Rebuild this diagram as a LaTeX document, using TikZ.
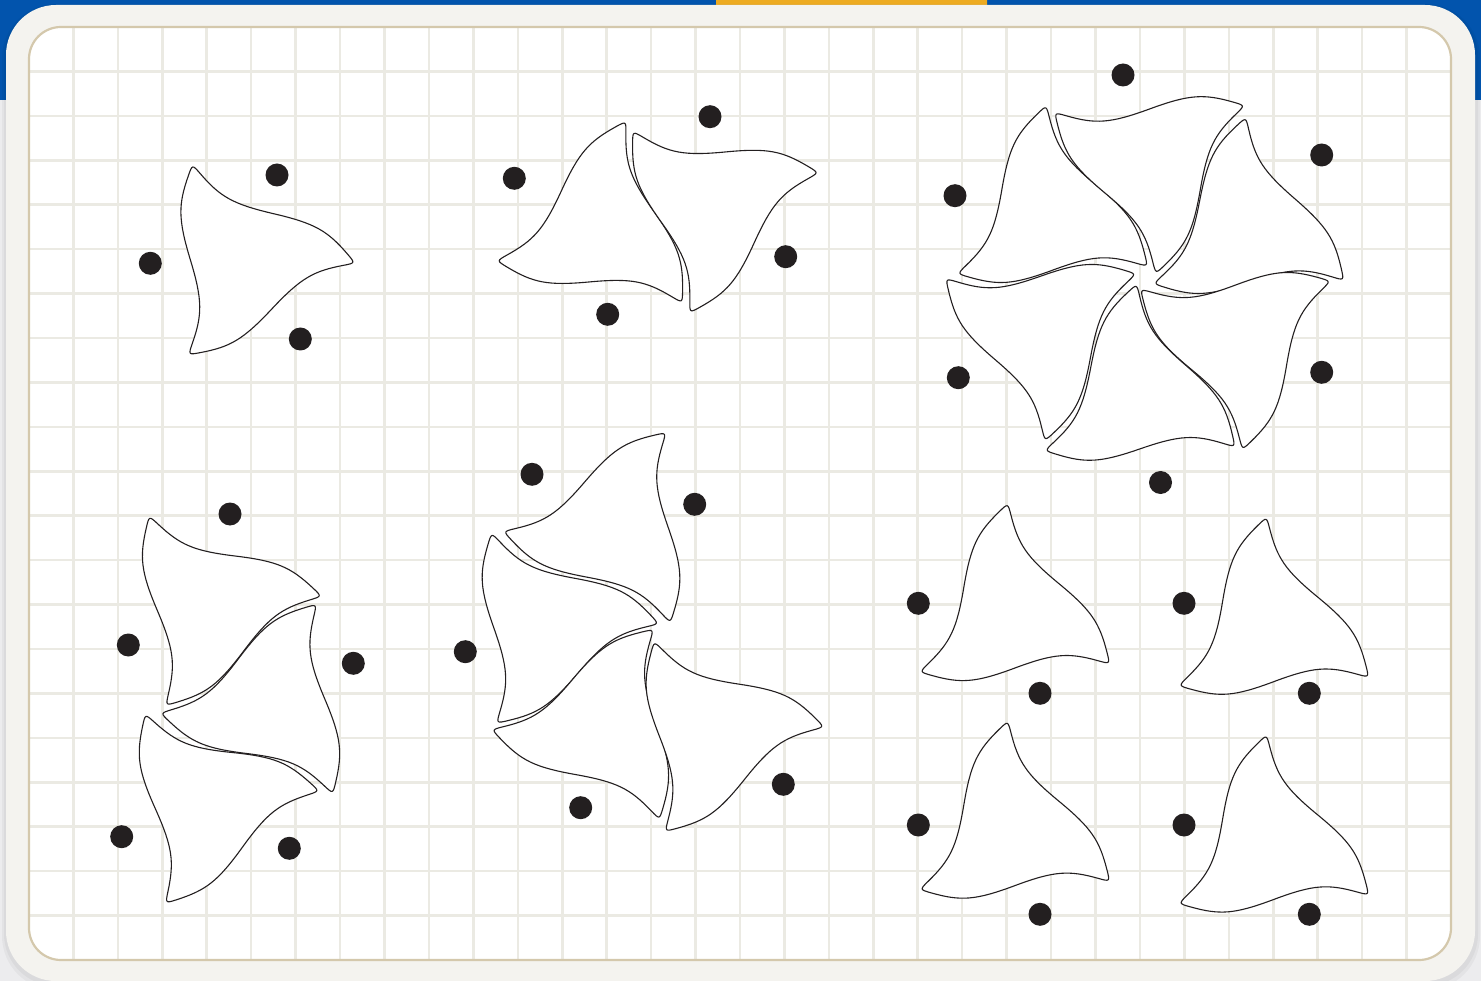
\documentclass[tikz,border=0pt]{standalone}
\usepackage{tikz}
\definecolor{bandblue}{HTML}{0254AD}
\definecolor{tabgold}{HTML}{EDAB22}
\definecolor{pagegray}{HTML}{ECECEE}
\definecolor{framecol}{HTML}{F4F3EF}
\definecolor{boardedge}{HTML}{D4C8AC}
\definecolor{gridcol}{HTML}{EBEAE3}
\definecolor{inkcol}{HTML}{231F20}
\tikzset{
  gridline/.style={draw=gridcol, line width=2.6pt},
  tileline/.style={draw=inkcol, fill=white, line width=1.1pt, line join=round},
  blackdot/.style={circle, fill=inkcol, minimum size=23pt, inner sep=0pt, draw=none}
}
\begin{document}
\begin{tikzpicture}[x=1pt,y=-1pt]
\useasboundingbox (0,0) rectangle (1481,981);
% page background and top band
\fill[pagegray] (0,0) rectangle (1481,981);
\fill[bandblue] (0,0) rectangle (1481,100);
\fill[tabgold, rounded corners=6pt] (716,-20) rectangle (987,14);
% soft shadow
\fill[black, opacity=0.035, rounded corners=54pt] (2,4) rectangle (1480,990);
\fill[black, opacity=0.035, rounded corners=52pt] (4,5) rectangle (1478,986);
% frame
\fill[framecol, rounded corners=50pt] (6,5) rectangle (1475,981);
% board
\fill[white, rounded corners=32pt] (29,27) rectangle (1451,960);
\begin{scope}
  \clip[rounded corners=32pt] (29,27) rectangle (1451,960);
  \foreach \k in {1,...,31}
    \draw[gridline] ({29+44.4375*\k},27) -- ({29+44.4375*\k},960);
  \foreach \k in {1,...,20}
    \draw[gridline] (29,{27+44.4286*\k}) -- (1451,{27+44.4286*\k});
\end{scope}
\draw[boardedge, line width=2.2pt, rounded corners=32pt] (29,27) rectangle (1451,960);
% tiles: centre x / centre y / rotation
\foreach \cx/\cy/\ph in {
  245.3/260.8/28.8,
  601.7/228.3/107.2, 713.7/205.6/47.4,
  1050.5/215.2/2.2, 1151.7/163.9/62.1, 1247.8/227.2/1.0,
  1237.8/340.0/62.4, 1138.9/393.9/1.1, 1042.2/331.1/61.4,
  212.2/605.9/35.0, 270.0/703.7/94.9, 210.0/802.8/36.1,
  613.3/528.9/91.3, 548.9/626.7/31.5, 601.6/726.1/91.8, 714.4/733.3/33.3,
  1012.5/613.1/2.4, 1271.4/626.7/2.5, 1012.5/830.7/2.4, 1271.4/844.5/2.5}
{
  \begin{scope}[shift={(\cx,\cy)}, rotate=\ph, yscale=-1, scale=110]
    \filldraw[tileline] (0.0228,0.8924) .. controls (0.0798,0.6217) and (0.1453,0.5083) .. (0.433,0.25)
      .. controls (0.7207,-0.0082) and (0.7862,-0.1217) .. (0.8433,-0.3924)
      .. controls (0.866,-0.5) .. (0.7614,-0.4659)
      .. controls (0.4985,-0.38) and (0.3675,-0.38) .. (0,-0.5)
      .. controls (-0.3675,-0.62) and (-0.4985,-0.62) .. (-0.7615,-0.5341)
      .. controls (-0.866,-0.5) .. (-0.7842,-0.4265)
      .. controls (-0.5783,-0.2418) and (-0.5129,-0.1284) .. (-0.433,0.25)
      .. controls (-0.3533,0.6282) and (-0.2877,0.7417) .. (-0.0818,0.9265)
      .. controls (0,1) .. (0.0228,0.8924) -- cycle;
  \end{scope}
}
% dots
\node[blackdot] (a1) at (277,175) {};
\node[blackdot] (a2) at (150.3,263.3) {};
\node[blackdot] (a3) at (300.3,339) {};
\node[blackdot] (b1) at (514.3,178.3) {};
\node[blackdot] (b2) at (710,116.7) {};
\node[blackdot] (b3) at (785.7,256.7) {};
\node[blackdot] (b4) at (607.7,314.3) {};
\node[blackdot] (c1) at (1123,75) {};
\node[blackdot] (c2) at (1321.7,155) {};
\node[blackdot] (c3) at (955,195.7) {};
\node[blackdot] (c4) at (958.3,377.7) {};
\node[blackdot] (c5) at (1321.7,372.3) {};
\node[blackdot] (c6) at (1160.5,482.5) {};
\node[blackdot] (e1) at (230,514) {};
\node[blackdot] (e2) at (128.3,645) {};
\node[blackdot] (e3) at (353.3,663.3) {};
\node[blackdot] (e4) at (121.7,836.7) {};
\node[blackdot] (e5) at (289.3,848.3) {};
\node[blackdot] (f1) at (532,474.3) {};
\node[blackdot] (f2) at (694.7,504.3) {};
\node[blackdot] (f3) at (465.3,651.7) {};
\node[blackdot] (f4) at (580.7,807.7) {};
\node[blackdot] (f5) at (783.3,784.3) {};
\node[blackdot] (g1) at (918.3,603.3) {};
\node[blackdot] (g2) at (1040,693.3) {};
\node[blackdot] (g3) at (1184,603.3) {};
\node[blackdot] (g4) at (1309.3,693.3) {};
\node[blackdot] (g5) at (918.3,825) {};
\node[blackdot] (g6) at (1040,914.3) {};
\node[blackdot] (g7) at (1184,825) {};
\node[blackdot] (g8) at (1309.3,914.3) {};
\end{tikzpicture}
\end{document}
